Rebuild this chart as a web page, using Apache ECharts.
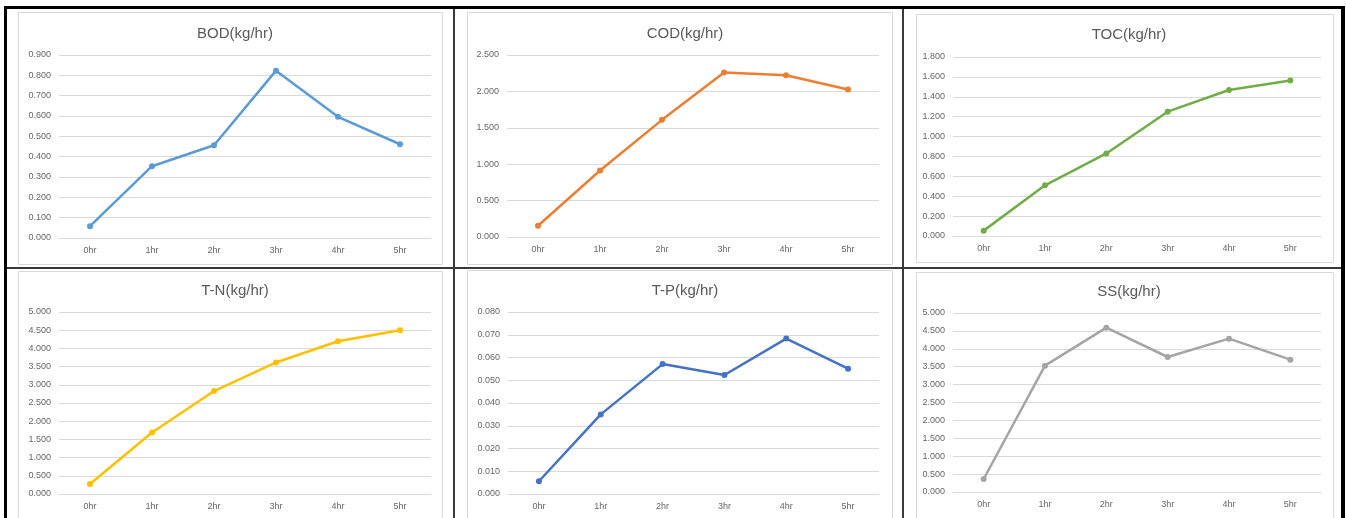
<!DOCTYPE html>
<html>
<head>
<meta charset="utf-8">
<script src="https://cdn.jsdelivr.net/npm/echarts@6/dist/echarts.min.js"></script>
<style>
  html, body { margin: 0; padding: 0; background: #fff; }
  #main { width: 1346px; height: 518px; }
</style>
</head>
<body>
<div id="main"></div>
<script>
const hours = ['0hr', '1hr', '2hr', '3hr', '4hr', '5hr'];

const bod = [0.058, 0.353, 0.456, 0.823, 0.596, 0.461];
const cod = [0.155, 0.914, 1.609, 2.258, 2.221, 2.025];
const toc = [0.054, 0.510, 0.830, 1.250, 1.468, 1.563];
const tn = [0.274, 1.688, 2.828, 3.613, 4.197, 4.498];
const tp = [0.0056, 0.0350, 0.0571, 0.0523, 0.0683, 0.0551];
const ss = [0.363, 3.529, 4.590, 3.771, 4.283, 3.696];

const titles = ['BOD(kg/hr)', 'COD(kg/hr)', 'TOC(kg/hr)', 'T-N(kg/hr)', 'T-P(kg/hr)', 'SS(kg/hr)'];
const values = [bod, cod, toc, tn, tp, ss];
const colors = ['#5B9BD5', '#ED7D31', '#70AD47', '#FFC000', '#4472C4', '#A5A5A5'];
const yMax = [0.9, 2.5, 1.8, 5, 0.08, 5];
const yStep = [0.1, 0.5, 0.2, 0.5, 0.01, 0.5];

// layout of each panel: plot area + chart frame + title centre
const panels = [
  { grid: [59, 55, 372, 183], frame: [18, 12, 424, 252], tx: 230, ty: 21 },
  { grid: [507, 55, 372, 182], frame: [467, 12, 425, 252], tx: 680, ty: 21 },
  { grid: [953, 57, 368, 179], frame: [916, 14, 417, 248], tx: 1124, ty: 22 },
  { grid: [59, 312, 372, 182], frame: [18, 271, 424, 260], tx: 230, ty: 278 },
  { grid: [508, 312, 371, 182], frame: [467, 270, 425, 260], tx: 680, ty: 278 },
  { grid: [953, 313, 368, 179], frame: [916, 272, 417, 260], tx: 1124, ty: 279 }
];

const labelColor = '#666';
const font = 'Liberation Sans';

const option = {
  animation: false,
  title: [],
  grid: [],
  xAxis: [],
  yAxis: [],
  series: [],
  graphic: []
};

panels.forEach((p, i) => {
  option.graphic.push({
    type: 'rect', silent: true, z: -1,
    shape: { x: p.frame[0] + 0.5, y: p.frame[1] + 0.5, width: p.frame[2], height: p.frame[3] },
    style: { fill: '#fff', stroke: '#D9D9D9', lineWidth: 1 }
  });
  option.title.push({
    text: titles[i], left: p.tx, top: p.ty, textAlign: 'center',
    textStyle: { fontFamily: font, fontSize: 15, fontWeight: 'normal', color: '#595959' }
  });
  option.grid.push({ left: p.grid[0], top: p.grid[1], width: p.grid[2], height: p.grid[3] });
  option.xAxis.push({
    type: 'category', gridIndex: i, data: hours, boundaryGap: true,
    axisLine: { lineStyle: { color: '#D9D9D9' } },
    axisTick: { show: false },
    axisLabel: { color: labelColor, fontFamily: font, fontSize: 9, margin: 8 }
  });
  option.yAxis.push({
    type: 'value', gridIndex: i, min: 0, max: yMax[i], interval: yStep[i],
    axisLine: { show: false }, axisTick: { show: false },
    splitLine: { lineStyle: { color: '#D9D9D9', width: 1 } },
    axisLabel: {
      color: labelColor, fontFamily: font, fontSize: 9, margin: 8,
      formatter: v => v.toFixed(3)
    }
  });
  option.series.push({
    type: 'line', xAxisIndex: i, yAxisIndex: i, data: values[i],
    symbol: 'circle', symbolSize: 6,
    lineStyle: { color: colors[i], width: 2.5 },
    itemStyle: { color: colors[i] }
  });
});

// table borders around the six charts
const dark = '#000';
const mid = '#3a3a3a';
option.graphic.push(
  { type: 'rect', silent: true, shape: { x: 4, y: 6, width: 1341, height: 3 }, style: { fill: dark } },
  { type: 'rect', silent: true, shape: { x: 4, y: 6, width: 3, height: 512 }, style: { fill: dark } },
  { type: 'rect', silent: true, shape: { x: 1341, y: 6, width: 4, height: 512 }, style: { fill: dark } },
  { type: 'rect', silent: true, shape: { x: 453, y: 9, width: 2, height: 509 }, style: { fill: mid } },
  { type: 'rect', silent: true, shape: { x: 902, y: 9, width: 2, height: 509 }, style: { fill: mid } },
  { type: 'rect', silent: true, shape: { x: 7, y: 267, width: 1334, height: 2 }, style: { fill: mid } }
);

const chart = echarts.init(document.getElementById('main'));
chart.setOption(option);
</script>
</body>
</html>
